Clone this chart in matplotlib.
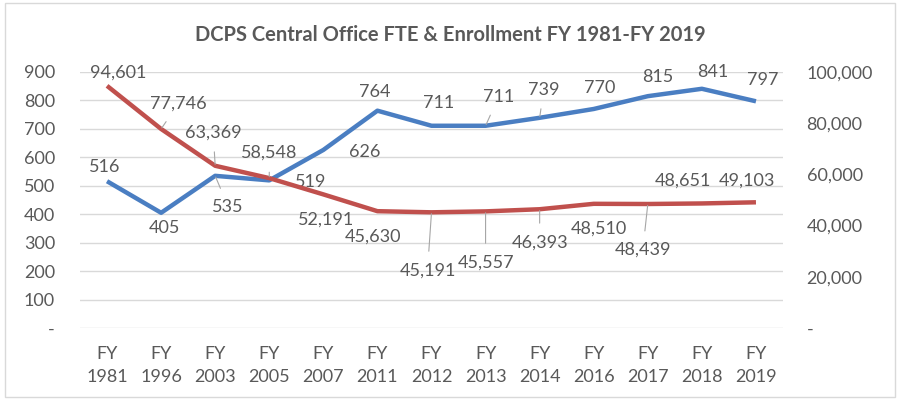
import matplotlib
matplotlib.use("Agg")
import matplotlib.pyplot as plt
from matplotlib.patches import Rectangle
from matplotlib.ticker import FuncFormatter

plt.rcParams['font.family'] = ['Lato', 'DejaVu Sans']

years = ["1981", "1996", "2003", "2005", "2007", "2011", "2012", "2013",
         "2014", "2016", "2017", "2018", "2019"]
fte = [516, 405, 535, 519, 626, 764, 711, 711, 739, 770, 815, 841, 797]
enrollment = [94601, 77746, 63369, 58548, 52191, 45630, 45191, 45557,
              46393, 48510, 48439, 48651, 49103]

# label offsets in pixels (dx, dy up positive) and whether a leader line is drawn
fte_off = [(-2, 14), (3, -15), (13, -31), (41, -2), (41, -2), (-3, 19), (7, 23),
           (13, 29), (4, 28), (6, 21), (10, 19), (11, 17), (7, 21)]
fte_lead = [False, False, True, False, False, False, False, True, True,
            False, False, False, False]
enr_off = [(11, 13), (17, 25), (-2, 33), (0, 25), (3, -25), (-4, -25), (-4, -58),
           (0, -51), (0, -33), (5, -25), (-5, -46), (-19, 23), (-9, 22)]
enr_lead = [False, True, True, True, False, False, True, True, True,
            False, True, False, False]

BLUE = "#4A7EC2"
RED = "#C0504D"
TXT = "#595959"
GRID = "#D9D9D9"
FS = 13

fig = plt.figure(figsize=(8.99, 3.99), dpi=100)
W, H = 899, 399
ax = fig.add_axes([80 / W, 1 - 328 / H, (783 - 80) / W, (328 - 72) / H])
ax2 = ax.twinx()

x = list(range(len(years)))
ax.set_xlim(-0.5, len(years) - 0.5)
ax.set_ylim(0, 900)
ax2.set_ylim(0, 100000)

ax.set_yticks(range(0, 901, 100))
ax2.set_yticks(range(0, 100001, 20000))
ax.yaxis.set_major_formatter(FuncFormatter(lambda v, p: "-" if v == 0 else f"{int(v)}"))
ax2.yaxis.set_major_formatter(FuncFormatter(lambda v, p: "-" if v == 0 else f"{int(v):,}"))
ax.set_xticks(x)
ax.set_xticklabels([f"FY\n{y}" for y in years], linespacing=1.55)

for a in (ax, ax2):
    for s in a.spines.values():
        s.set_visible(False)
    a.tick_params(length=0, colors=TXT, labelsize=FS)
ax.tick_params(axis='y', pad=18)
ax2.tick_params(axis='y', pad=17)
ax.tick_params(axis='x', pad=13)
ax.grid(axis='y', color=GRID, lw=1)
ax.set_axisbelow(True)

ax.plot(x, fte, color=BLUE, lw=3.2, solid_capstyle='butt', zorder=3)
ax2.plot(x, enrollment, color=RED, lw=3.2, solid_capstyle='butt', zorder=3)

k = 0.72
for i, v in enumerate(fte):
    dx, dy = fte_off[i]
    ap = dict(arrowstyle='-', color='#A6A6A6', lw=0.8, shrinkA=6, shrinkB=1) if fte_lead[i] else None
    ax.annotate(f"{v}", (i, v), xytext=(dx * k, dy * k), textcoords='offset points',
                ha='center', va='center', fontsize=FS, color=TXT, arrowprops=ap, zorder=4)
for i, v in enumerate(enrollment):
    dx, dy = enr_off[i]
    ap = dict(arrowstyle='-', color='#A6A6A6', lw=0.8, shrinkA=6, shrinkB=1) if enr_lead[i] else None
    ax2.annotate(f"{v:,}", (i, v), xytext=(dx * k, dy * k), textcoords='offset points',
                 ha='center', va='center', fontsize=FS, color=TXT, arrowprops=ap, zorder=4)

fig.text(450 / W, 1 - 35 / H, "DCPS Central Office FTE & Enrollment FY 1981-FY 2019",
         ha='center', va='center', fontsize=14.5, fontweight='bold', color=TXT)

fig.patches.append(Rectangle((5 / W, 2 / H), 890 / W, 394 / H, transform=fig.transFigure,
                             fill=False, edgecolor=GRID, lw=1))

fig.savefig("out.png", dpi=100)
